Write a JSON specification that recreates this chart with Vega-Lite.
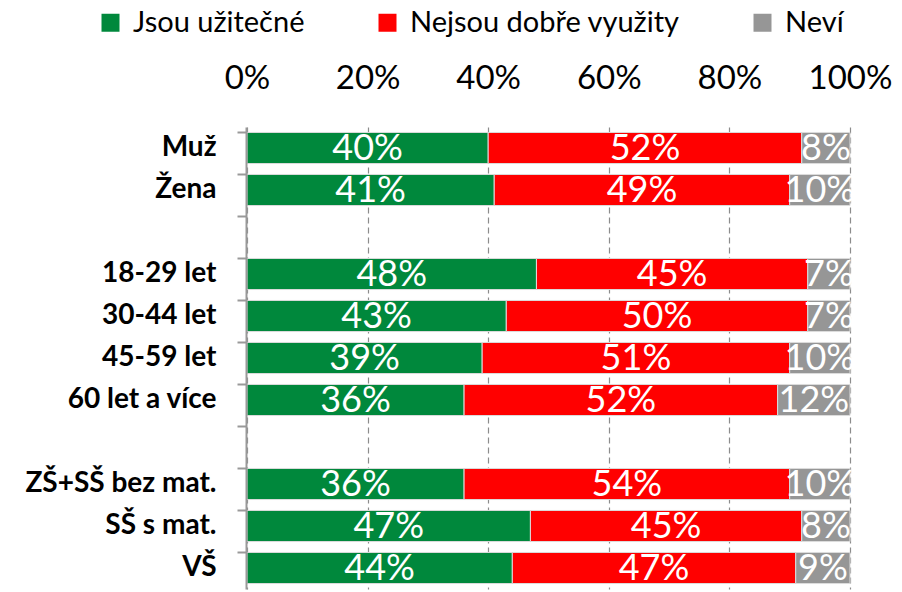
{
  "$schema": "https://vega.github.io/schema/vega-lite/v6.json",
  "autosize": "none",
  "padding": {"left": 247, "top": 127, "right": 52, "bottom": 3},
  "width": 603,
  "height": 462,
  "background": "white",
  "config": {"view": {"stroke": null}, "font": "Lato"},
  "data": {"values": [
    {"cat": "Muž", "s": "Jsou užitečné", "v": 0.40},
    {"cat": "Muž", "s": "Nejsou dobře využity", "v": 0.52},
    {"cat": "Muž", "s": "Neví", "v": 0.08},
    {"cat": "Žena", "s": "Jsou užitečné", "v": 0.41},
    {"cat": "Žena", "s": "Nejsou dobře využity", "v": 0.49},
    {"cat": "Žena", "s": "Neví", "v": 0.10},
    {"cat": "18-29 let", "s": "Jsou užitečné", "v": 0.48},
    {"cat": "18-29 let", "s": "Nejsou dobře využity", "v": 0.45},
    {"cat": "18-29 let", "s": "Neví", "v": 0.07},
    {"cat": "30-44 let", "s": "Jsou užitečné", "v": 0.43},
    {"cat": "30-44 let", "s": "Nejsou dobře využity", "v": 0.50},
    {"cat": "30-44 let", "s": "Neví", "v": 0.07},
    {"cat": "45-59 let", "s": "Jsou užitečné", "v": 0.39},
    {"cat": "45-59 let", "s": "Nejsou dobře využity", "v": 0.51},
    {"cat": "45-59 let", "s": "Neví", "v": 0.10},
    {"cat": "60 let a více", "s": "Jsou užitečné", "v": 0.36},
    {"cat": "60 let a více", "s": "Nejsou dobře využity", "v": 0.52},
    {"cat": "60 let a více", "s": "Neví", "v": 0.12},
    {"cat": "ZŠ+SŠ bez mat.", "s": "Jsou užitečné", "v": 0.36},
    {"cat": "ZŠ+SŠ bez mat.", "s": "Nejsou dobře využity", "v": 0.54},
    {"cat": "ZŠ+SŠ bez mat.", "s": "Neví", "v": 0.10},
    {"cat": "SŠ s mat.", "s": "Jsou užitečné", "v": 0.47},
    {"cat": "SŠ s mat.", "s": "Nejsou dobře využity", "v": 0.45},
    {"cat": "SŠ s mat.", "s": "Neví", "v": 0.08},
    {"cat": "VŠ", "s": "Jsou užitečné", "v": 0.44},
    {"cat": "VŠ", "s": "Nejsou dobře využity", "v": 0.47},
    {"cat": "VŠ", "s": "Neví", "v": 0.09}
  ]},
  "encoding": {
    "x": {
      "field": "v", "type": "quantitative", "stack": "normalize",
      "scale": {"domain": [0, 1]},
      "axis": {
        "orient": "top", "title": null, "format": ".0%", "values": [0, 0.2, 0.4, 0.6, 0.8, 1],
        "domain": false, "ticks": false, "tickSize": 0, "labelPadding": 32, "labelFlush": false,
        "labelFont": "Lato", "labelFontSize": 33, "labelColor": "#000000",
        "grid": true, "gridColor": "#8c8c8c", "gridDash": [6, 4], "gridWidth": 1.2
      }
    },
    "order": {"field": "s", "type": "nominal", "sort": "ascending"}
  },
  "layer": [
    {
      "mark": {"type": "bar", "stroke": "#dcdcdc", "strokeWidth": 1},
      "encoding": {
        "y": {
          "field": "cat", "type": "nominal",
          "scale": {
            "domain": ["Muž", "Žena", "_b1", "18-29 let", "30-44 let", "45-59 let", "60 let a více", "_b2", "ZŠ+SŠ bez mat.", "SŠ s mat.", "VŠ"],
            "paddingInner": 0.26, "paddingOuter": 0.13
          },
          "axis": {
            "title": null, "orient": "left", "offset": 1, "zindex": 1,
            "labelExpr": "indexof(datum.value, '_b') == 0 ? '' : datum.value",
            "labelFont": "Lato", "labelFontSize": 28, "labelFontWeight": "bold", "labelColor": "#000000",
            "labelPadding": 30, "labelLimit": 400, "ticks": false, "domain": true, "domainColor": "#999999",
            "grid": false, "domainWidth": 2
          }
        },
        "color": {
          "field": "s", "type": "nominal",
          "scale": {"domain": ["Jsou užitečné", "Nejsou dobře využity", "Neví"], "range": ["#00883C", "#FF0000", "#969696"]},
          "legend": {
            "title": null, "orient": "none", "direction": "horizontal",
            "legendX": -151, "legendY": -119,
            "symbolType": "square", "symbolSize": 324, "symbolStrokeWidth": 0,
            "labelFont": "Lato", "labelFontSize": 29, "labelColor": "#000000", "labelLimit": 500,
            "labelOffset": 8, "columnPadding": 68
          }
        }
      }
    },
    {
      "mark": {"type": "text", "color": "white", "font": "Lato", "fontSize": 36, "baseline": "middle", "dy": 1},
      "encoding": {
        "y": {
          "field": "cat", "type": "nominal",
          "axis": {
            "title": null, "orient": "left", "offset": 1, "zindex": 1, "bandPosition": 0,
            "labels": false, "domain": false, "ticks": true, "tickSize": 9, "tickWidth": 2,
            "tickColor": "#999999", "grid": false
          }
        },
        "detail": {"field": "s", "type": "nominal"},
        "x": {"field": "v", "type": "quantitative", "stack": "normalize", "bandPosition": 0.5},
        "text": {"field": "v", "type": "quantitative", "format": ".0%"}
      }
    }
  ],
  "resolve": {"axis": {"y": "independent"}}
}
